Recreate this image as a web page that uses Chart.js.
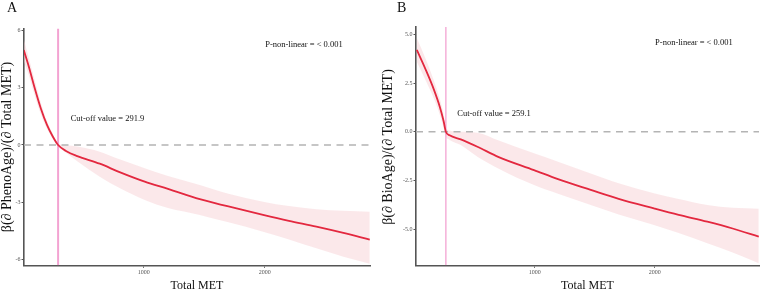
<!DOCTYPE html>
<html><head><meta charset="utf-8">
<script src="https://cdn.jsdelivr.net/npm/chart.js@4/dist/chart.umd.min.js"></script>
<style>
html,body{margin:0;padding:0;background:#fff;}
#wrap{position:relative;width:760px;height:292px;overflow:hidden;}
canvas{position:absolute;top:0;}
</style></head>
<body><div id="wrap"><canvas id="cA" width="380" height="292" style="left:0"></canvas><canvas id="cB" width="380" height="292" style="left:380px"></canvas></div>
<script>
// ---- Panel A data (Total MET vs β(∂ PhenoAge)/(∂ Total MET)) ----
const metA   = [8, 50, 100, 150, 200, 250, 292, 361, 450, 636, 800, 1008, 1200, 1463, 1700, 1986, 2200, 2427, 2650, 2868];
const fitA   = [4.97, 4.1, 2.95, 1.9, 1.05, 0.42, 0, -0.33, -0.58, -0.98, -1.42, -1.92, -2.3, -2.84, -3.22, -3.66, -3.97, -4.27, -4.6, -4.96];
const upperA = [5.55, 4.55, 3.35, 2.2, 1.25, 0.55, 0.08, -0.02, -0.08, -0.35, -0.75, -1.22, -1.62, -2.09, -2.55, -2.97, -3.2, -3.37, -3.45, -3.5];
const lowerA = [4.4, 3.65, 2.55, 1.6, 0.85, 0.3, -0.08, -0.42, -0.85, -1.66, -2.25, -2.88, -3.3, -3.66, -4.05, -4.54, -4.95, -5.41, -5.85, -6.22];
const cutA = 291.9;
const yTicksA = [-6, -3, 0, 3, 6];

// ---- Panel B data (Total MET vs β(∂ BioAge)/(∂ Total MET)) ----
const metB   = [17, 90, 160, 210, 240, 259, 290, 383, 522, 700, 994, 1200, 1467, 1700, 1994, 2200, 2439, 2650, 2868];
const fitB   = [4.2, 3.2, 2.15, 1.25, 0.55, 0, -0.18, -0.39, -0.77, -1.3, -1.97, -2.45, -2.99, -3.45, -3.94, -4.27, -4.62, -4.97, -5.39];
const upperB = [4.82, 3.75, 2.6, 1.65, 0.9, 0.25, 0.06, 0.0, -0.05, -0.45, -1.11, -1.55, -2.14, -2.65, -3.16, -3.45, -3.76, -3.9, -3.95];
const lowerB = [3.6, 2.65, 1.7, 0.85, 0.2, -0.25, -0.42, -0.68, -1.28, -1.9, -2.74, -3.2, -3.76, -4.25, -4.79, -5.2, -5.73, -6.2, -6.76];
const cutB = 259.1;
const yTicksB = [-5, -2.5, 0, 2.5, 5];

const xTicks = [1000, 2000];
const xRange = [10, 2870];

const SERIF = "'Liberation Serif', 'DejaVu Serif', serif";

function pts(xs, ys){ return xs.map((x,i)=>({x:x, y:ys[i]})); }

function makePanel(id, o){
  const textPlugin = {
    id:'txt',
    afterDraw(chart){
      const ctx = chart.ctx, xs = chart.scales.x, ys = chart.scales.y;
      ctx.save();
      ctx.fillStyle = '#111';
      ctx.font = '14px ' + SERIF;
      ctx.textAlign = 'left'; ctx.textBaseline = 'middle';
      ctx.fillText(o.letter, o.letterX, 8);
      ctx.font = '8.5px ' + SERIF;
      ctx.textAlign = 'left';
      ctx.fillText('Cut-off value = ' + o.cut, xs.getPixelForValue(o.cutTextX), ys.getPixelForValue(o.cutTextY));
      ctx.textAlign = 'center';
      ctx.fillText('P-non-linear = < 0.001', xs.getPixelForValue(o.pTextX), ys.getPixelForValue(o.pTextY));
      ctx.font = '12px ' + SERIF;
      ctx.textAlign = 'center'; ctx.textBaseline = 'middle';
      ctx.fillText('Total MET', (chart.chartArea.left + chart.chartArea.right)/2, 286);
      ctx.font = '14px ' + SERIF;
      ctx.translate(o.yTitleX, 147);
      ctx.rotate(-Math.PI/2);
      ctx.fillText(o.yTitle, 0, 0);
      ctx.restore();
    }
  };
  return new Chart(document.getElementById(id), {
    type:'line',
    data:{ datasets:[
      { data: pts(o.met, o.upper), borderWidth:0, pointRadius:0, fill:'+1',
        backgroundColor:'rgba(246,200,206,0.42)', borderColor:'rgba(0,0,0,0)', tension:0.4, cubicInterpolationMode:'monotone', order:5 },
      { data: pts(o.met, o.lower), borderWidth:0, pointRadius:0, fill:false,
        borderColor:'rgba(0,0,0,0)', tension:0.4, cubicInterpolationMode:'monotone', order:5 },
      { data: [{x:xRange[0], y:0},{x:xRange[1], y:0}], borderColor:'#b4b4b4', borderWidth:1.6,
        borderDash:[7,5.5], pointRadius:0, fill:false, order:4 },
      { data: [{x:o.cut, y:o.yMin},{x:o.cut, y:o.yMax}], borderColor:'#f3a3d2', borderWidth:o.cutW,
        pointRadius:0, fill:false, order:3 },
      { data: pts(o.met, o.fit), borderColor:'#e3283f', borderWidth:1.8, pointRadius:0, fill:false,
        tension:0.4, cubicInterpolationMode:'monotone', order:1 }
    ]},
    options:{
      responsive:false, animation:false, devicePixelRatio:1,
      layout:{ padding:{ top:o.top, right:o.right, left:0, bottom:0 } },
      plugins:{ legend:{display:false}, tooltip:{enabled:false} },
      scales:{
        x:{ type:'linear', min:xRange[0], max:xRange[1],
            afterBuildTicks(s){ s.ticks = xTicks.map(v=>({value:v})); },
            afterFit(s){ s.height = 292 - o.bottom; },
            border:{display:true, color:'#555', width:1.6},
            grid:{display:true, drawOnChartArea:false, drawTicks:true, tickLength:2.5, color:'#555'},
            ticks:{ font:{family:SERIF, size:6}, color:'#555', padding:1, maxRotation:0,
                    callback:(v)=>String(v) } },
        y:{ type:'linear', min:o.yMin, max:o.yMax,
            afterBuildTicks(s){ s.ticks = o.yTicks.map(v=>({value:v})); },
            afterFit(s){ s.width = o.left; },
            border:{display:true, color:'#555', width:1.6},
            grid:{display:true, drawOnChartArea:false, drawTicks:true, tickLength:2.5, color:'#555'},
            ticks:{ font:{family:SERIF, size:6}, color:'#555', padding:1,
                    callback:o.yFmt } }
      }
    },
    plugins:[textPlugin]
  });
}

makePanel('cA', { met:metA, fit:fitA, upper:upperA, lower:lowerA, cut:cutA, yTicks:yTicksA,
  yMin:-6.3, yMax:6.1, top:28.5, right:10, left:24, bottom:265.3, cutW:2,
  yFmt:(v)=>String(v), letter:'A', letterX:7,
  yTitle:'β(∂ PhenoAge)/(∂ Total MET)', yTitleX:7,
  cutTextX:396, cutTextY:1.35, pTextX:2324, pTextY:5.24 });

makePanel('cB', { met:metB, fit:fitB, upper:upperB, lower:lowerB, cut:cutB, yTicks:yTicksB,
  yMin:-6.86, yMax:5.38, top:27, right:1, left:36, bottom:265.3, cutW:1.3,
  yFmt:(v)=>v.toFixed(1), letter:'B', letterX:17,
  yTitle:'β(∂ BioAge)/(∂ Total MET)', yTitleX:8,
  cutTextX:354, cutTextY:0.92, pTextX:2327, pTextY:4.56 });
</script>
</body></html>
